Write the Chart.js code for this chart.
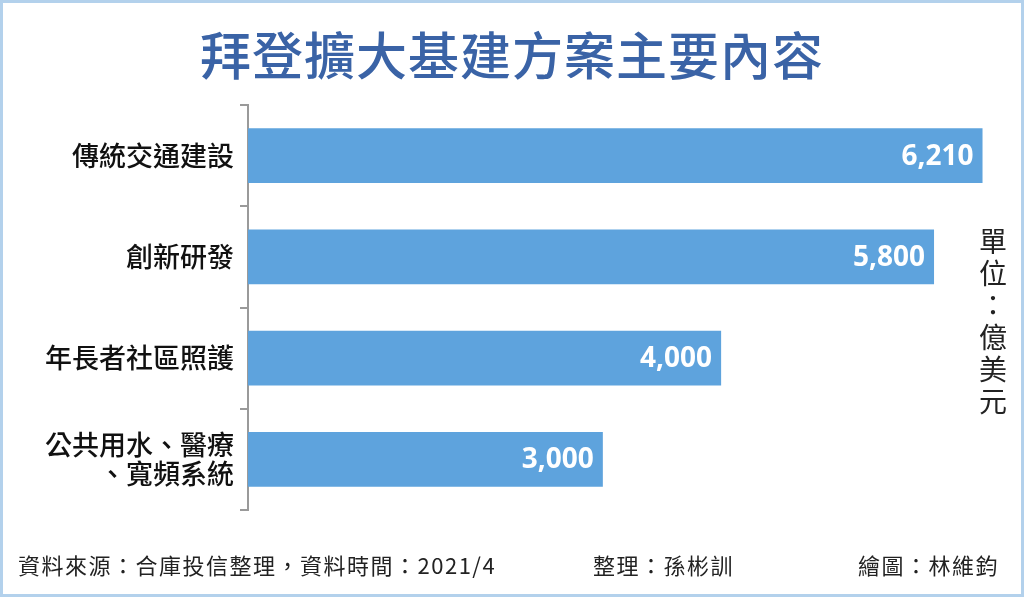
<!DOCTYPE html>
<html>
<head>
<meta charset="utf-8">
<script src="https://cdn.jsdelivr.net/npm/chart.js@4"></script>
<style>
  html, body { margin: 0; padding: 0; background: #fff; }
  #wrap {
    position: relative; width: 1024px; height: 597px; overflow: hidden;
    box-sizing: border-box; border: 3px solid #b3d1ec; background: #fff;
    font-family: "Noto Sans CJK TC", "Noto Sans", sans-serif;
  }
  #chart { position: absolute; left: -3px; top: -3px; }
  #title {
    position: absolute; left: 0; right: 0; top: 20px; text-align: center;
    font-size: 51px; font-weight: 500; color: #3a63a6; line-height: 60px; letter-spacing: 1px;
  }
  #unit {
    position: absolute; left: 975px; top: 224px; writing-mode: vertical-rl;
    font-size: 28px; color: #222; letter-spacing: 4px; line-height: 30px;
  }
  .foot {
    position: absolute; top: 547px; font-size: 22px; color: #222; line-height: 28px; letter-spacing: 1.5px;
  }
</style>
</head>
<body>
<div id="wrap">
  <canvas id="chart" width="1024" height="597"></canvas>
  <div id="title">拜登擴大基建方案主要內容</div>
  <div id="unit">單位：億美元</div>
  <div class="foot" style="left:15px">資料來源：合庫投信整理，資料時間：2021/4</div>
  <div class="foot" style="left:590px">整理：孫彬訓</div>
  <div class="foot" style="left:855px">繪圖：林維鈞</div>
</div>
<script>
const categories = ['傳統交通建設', '創新研發', '年長者社區照護', ['公共用水、醫療', '、寬頻系統']];
const amounts = [6210, 5800, 4000, 3000];
const axisMax = 6400;

const valueLabels = {
  id: 'valueLabels',
  afterDatasetsDraw(chart) {
    const ctx = chart.ctx;
    const meta = chart.getDatasetMeta(0);
    ctx.save();
    ctx.fillStyle = '#ffffff';
    ctx.font = 'bold 28px "Noto Sans", sans-serif';
    ctx.textAlign = 'right';
    ctx.textBaseline = 'middle';
    meta.data.forEach((bar, i) => {
      ctx.fillText(amounts[i].toLocaleString('en-US'), bar.x - 9, bar.y + 1);
    });
    ctx.restore();
  }
};

new Chart(document.getElementById('chart'), {
  type: 'bar',
  data: {
    labels: categories,
    datasets: [{
      data: amounts,
      backgroundColor: '#5ea3dd',
      barPercentage: 0.54,
      categoryPercentage: 1
    }]
  },
  options: {
    indexAxis: 'y',
    responsive: false,
    devicePixelRatio: 1,
    animation: false,
    layout: { padding: { top: 105, bottom: 87, left: 0, right: 19 } },
    plugins: { legend: { display: false }, tooltip: { enabled: false } },
    scales: {
      x: { display: false, min: 0, max: axisMax },
      y: {
        afterFit: (scale) => { scale.width = 248; },
        border: { display: true, color: '#9a9a9a', width: 2 },
        grid: { drawOnChartArea: false, tickLength: 8, color: '#9a9a9a', lineWidth: 2 },
        ticks: {
          color: '#111',
          padding: 6,
          font: { family: '"Noto Sans CJK TC", sans-serif', size: 27, weight: '500', lineHeight: 1.1 }
        }
      }
    }
  },
  plugins: [valueLabels]
});
</script>
</body>
</html>
